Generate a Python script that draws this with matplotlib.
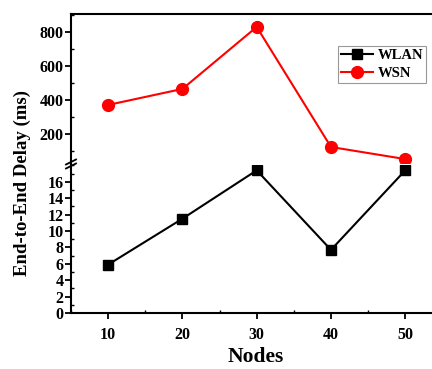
import matplotlib
matplotlib.use("Agg")
import matplotlib.pyplot as plt
from matplotlib.ticker import MultipleLocator

plt.rcParams['font.family'] = ['Liberation Serif', 'DejaVu Serif']
plt.rcParams['font.weight'] = 'bold'

nodes = [10, 20, 30, 40, 50]
wlan = [5.9, 11.5, 17.4, 7.7, 17.4]
wsn = [371, 465, 829, 124, 53]
xticks = [10, 20, 30, 40, 50]
upper_ticks = [200, 400, 600, 800]
lower_ticks = [0, 2, 4, 6, 8, 10, 12, 14, 16]

W, H = 432, 369
fig = plt.figure(figsize=(W/100, H/100), dpi=100)
L, R = 71, 432
ax_top = fig.add_axes([L/W, (H-163)/H, (R-L)/W, (163-14)/H])
ax_bot = fig.add_axes([L/W, (H-313)/H, (R-L)/W, (313-165)/H])

h1, = ax_bot.plot(nodes, wlan, color='black', marker='s', markersize=7, lw=1.5, label='WLAN')
h2, = ax_top.plot(nodes, wsn, color='red', marker='o', markersize=8.5, lw=1.5, label='WSN')

for ax in (ax_top, ax_bot):
    ax.set_xlim(5, 53.6)
    ax.spines['right'].set_visible(False)
    for s in ax.spines.values():
        s.set_linewidth(1.5)

ax_top.set_ylim(30, 905)
ax_bot.set_ylim(0, 18.05)

ax_top.spines['bottom'].set_visible(False)
ax_bot.spines['top'].set_visible(False)

ax_top.set_yticks(upper_ticks)
ax_top.yaxis.set_minor_locator(MultipleLocator(100))
ax_top.set_xticks([])
ax_top.tick_params(axis='x', which='both', bottom=False, labelbottom=False)

ax_bot.set_yticks(lower_ticks)
ax_bot.yaxis.set_minor_locator(MultipleLocator(1))
ax_bot.set_xticks(xticks)
ax_bot.xaxis.set_minor_locator(MultipleLocator(5))

for ax in (ax_top, ax_bot):
    ax.tick_params(axis='y', which='major', direction='out', length=4, width=1.3, labelsize=11.5, pad=1.5)
    ax.tick_params(axis='y', which='minor', direction='in', length=2.5, width=1)
    for lab in ax.get_yticklabels():
        lab.set_fontweight('bold')
ax_bot.tick_params(axis='x', which='major', direction='out', length=4, width=1.3, labelsize=11.5, pad=6)
ax_bot.tick_params(axis='x', which='minor', direction='in', length=2.5, width=1)
for lab in ax_bot.get_xticklabels():
    lab.set_fontweight('bold')

# break marks
kw = dict(color='black', lw=1.3, clip_on=False, transform=fig.transFigure)
x0 = L/W
for dy in (0, 4):
    yb = (H-(166-dy))/H
    fig.add_artist(plt.Line2D([x0-5/W, x0+5/W], [yb-2.5/H, yb+2.5/H], **kw))

fig.text(22/W, (H-183)/H, 'End-to-End Delay (ms)', rotation=90, ha='center', va='center',
         fontsize=13.5, fontweight='bold')
fig.text(256/W, (H-357)/H, 'Nodes', ha='center', va='center', fontsize=15.5, fontweight='bold')

leg = ax_top.legend([h1, h2], ['WLAN', 'WSN'], loc='upper left',
                    bbox_to_anchor=((338-L)/(R-L), (163-46)/(163-14)),
                    frameon=True, fancybox=False, edgecolor='gray', fontsize=10.5,
                    handlelength=2.2, borderpad=0.2, labelspacing=0.35, handletextpad=0.3,
                    borderaxespad=0)
leg.get_frame().set_linewidth(0.8)
for t in leg.get_texts():
    t.set_fontweight('bold')

fig.savefig('out.png', dpi=100)
